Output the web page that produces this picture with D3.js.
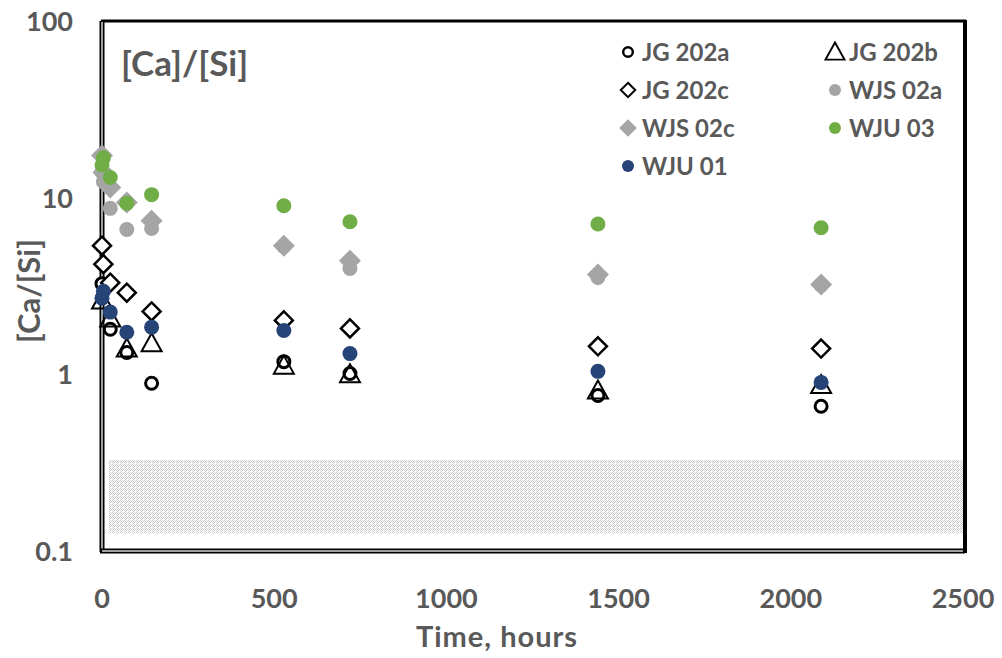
<!DOCTYPE html>
<html><head><meta charset="utf-8">
<script src="https://cdn.jsdelivr.net/npm/d3@7"></script>
<style>body{margin:0;background:#fff}svg{display:block}text{font-family:Lato,"Open Sans",sans-serif;font-weight:bold;fill:#595959}</style>
</head><body><svg id="c" width="1002" height="658"></svg>
<script>
// Data
const jg202a = [[0,3.26],[24,1.80],[72,1.33],[144,0.89],[528,1.18],[720,1.01],[1440,0.76],[2088,0.66]];
const jg202b = [[0,2.62],[24,2.07],[72,1.40],[144,1.50],[528,1.12],[720,1.0],[1440,0.81],[2088,0.87]];
const jg202c = [[0,5.35],[4,4.2],[24,3.3],[72,2.9],[144,2.27],[528,2.02],[720,1.82],[1440,1.44],[2088,1.40]];
const wjs02a = [[0,14],[4,12.3],[24,8.7],[72,6.6],[144,6.7],[528,5.3],[720,3.97],[1440,3.53],[2088,3.2]];
const wjs02c = [[0,17.3],[4,13.9],[24,11.4],[72,9.4],[144,7.4],[528,5.35],[720,4.4],[1440,3.67],[2088,3.22]];
const wju03 = [[0,15.3],[4,16.8],[24,13.0],[72,9.3],[144,10.4],[528,9.0],[720,7.3],[1440,7.1],[2088,6.76]];
const wju01 = [[0,2.7],[4,2.95],[24,2.25],[72,1.73],[144,1.85],[528,1.77],[720,1.31],[1440,1.04],[2088,0.90]];
const band = {t0: 20, t1: 2500, lo: 0.126, hi: 0.327};
const xTicks = [0, 500, 1000, 1500, 2000, 2500];
const yTicks = [0.1, 1, 10, 100];
const seriesNames = ["JG 202a","JG 202b","JG 202c","WJS 02a","WJS 02c","WJU 03","WJU 01"];

const svg = d3.select("#c");
const L = 102, R = 963, T = 21, B = 551;
const x = d3.scaleLinear().domain([0, 2500]).range([L, R]);
const y = d3.scaleLog().domain([0.1, 100]).range([B, T]);

// shaded band pattern
const defs = svg.append("defs");
const pat = defs.append("pattern").attr("id","dots").attr("width",4).attr("height",4).attr("patternUnits","userSpaceOnUse");
pat.append("rect").attr("width",4).attr("height",4).attr("fill","#fff");
[[0,0],[2,0],[1,1],[3,1],[0,2],[2,2],[1,3]].forEach(p =>
  pat.append("rect").attr("x",p[0]).attr("y",p[1]).attr("width",1).attr("height",1).attr("fill","#cccccc"));

svg.append("rect").attr("x", x(band.t0)).attr("y", y(band.hi))
  .attr("width", x(band.t1) - x(band.t0)).attr("height", y(band.lo) - y(band.hi))
  .attr("fill","url(#dots)");

// frame
svg.append("line").attr("x1",L-1).attr("x2",R+3).attr("y1",T).attr("y2",T).attr("stroke","#000").attr("stroke-width",3);
svg.append("line").attr("x1",R+2).attr("x2",R+2).attr("y1",T-1).attr("y2",B+2).attr("stroke","#000").attr("stroke-width",4);
svg.append("line").attr("x1",L).attr("x2",L).attr("y1",T).attr("y2",B+1).attr("stroke","#000").attr("stroke-width",5);
svg.append("line").attr("x1",L).attr("x2",L).attr("y1",T+1).attr("y2",B).attr("stroke","#a0a0a0").attr("stroke-width",2);
svg.append("line").attr("x1",L-2).attr("x2",R+2).attr("y1",B).attr("y2",B).attr("stroke","#000").attr("stroke-width",5);
svg.append("line").attr("x1",L).attr("x2",R).attr("y1",B).attr("y2",B).attr("stroke","#a0a0a0").attr("stroke-width",2);

// ticks
svg.selectAll(".xt").data(xTicks).enter().append("text")
  .attr("x", d => x(d)).attr("y", 608).attr("text-anchor","middle").attr("font-size",27).text(d => d);
svg.selectAll(".yt").data(yTicks).enter().append("text")
  .attr("x", 73).attr("y", d => y(d) + 10).attr("text-anchor","end").attr("font-size",27).text(d => d);

svg.append("text").attr("x", 497).attr("y", 647).attr("text-anchor","middle").attr("font-size",29).attr("letter-spacing",1).text("Time, hours");
svg.append("text").attr("transform","translate(40,291) rotate(-90)").attr("text-anchor","middle").attr("font-size",31).text("[Ca/[Si]");
svg.append("text").attr("x", 121).attr("y", 76).attr("font-size",35).text("[Ca]/[Si]");

// markers
const g = svg.append("g");
function circOpen(sel){ sel.append("circle").attr("r",6).attr("fill","#fff").attr("stroke","#000").attr("stroke-width",3); }
function tri(sel){ sel.append("path").attr("d","M0,-10L10,8L-10,8Z").attr("fill","none").attr("stroke","#000").attr("stroke-width",2); }
function diaOpen(sel){ sel.append("path").attr("d","M0,-9L9,0L0,9L-9,0Z").attr("fill","#fff").attr("stroke","#000").attr("stroke-width",2.5); }
function dot(color, r){ return sel => sel.append("circle").attr("r",r).attr("fill",color); }
function diaFill(sel){ sel.append("path").attr("d","M0,-11L11,0L0,11L-11,0Z").attr("fill","#a5a5a5"); }
const markers = [circOpen, tri, diaOpen, dot("#a5a5a5",7.5), diaFill, dot("#70ad47",7.5), dot("#264478",7.5)];
const data = [jg202a, jg202b, jg202c, wjs02a, wjs02c, wju03, wju01];
data.forEach((arr, i) => {
  g.selectAll(null).data(arr).enter().append("g")
    .attr("transform", d => `translate(${x(d[0])},${y(d[1])})`)
    .call(markers[i]);
});

// legend
const legPos = [[628,52],[835,52],[628,90],[835,90],[628,128],[835,128],[628,166]];
seriesNames.forEach((n, i) => {
  const [lx, ly] = legPos[i];
  const lg = svg.append("g").attr("transform", `translate(${lx},${ly})`);
  const m = lg.append("g").attr("transform", i===1 ? "scale(0.95)" : "scale(0.8)");
  markers[i](m);
  svg.append("text").attr("x", lx + 14).attr("y", ly + 9).attr("font-size",24).text(n);
});
</script></body></html>
